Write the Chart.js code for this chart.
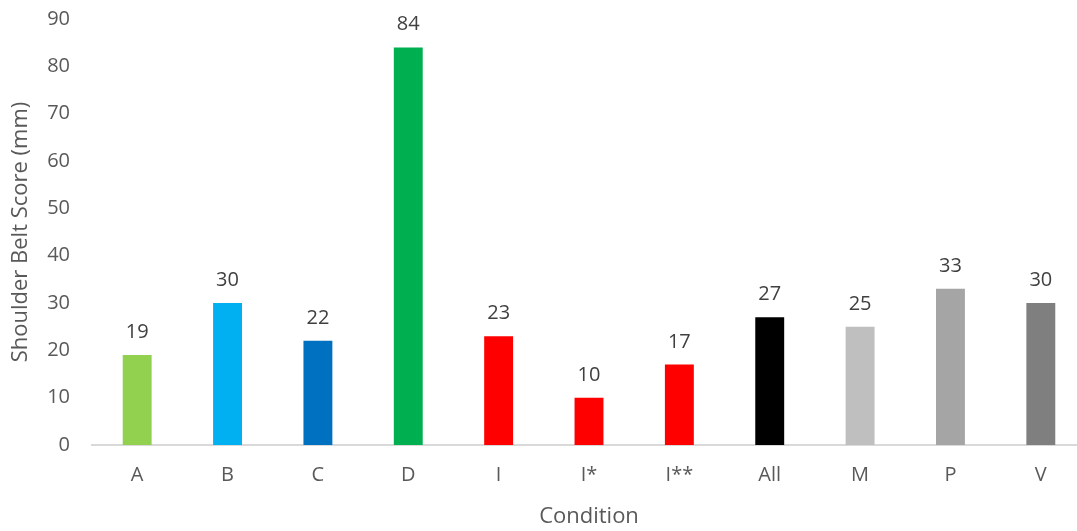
<!DOCTYPE html>
<html>
<head>
<meta charset="utf-8">
<script src="https://cdn.jsdelivr.net/npm/chart.js@4"></script>
<style>
  html, body { margin: 0; padding: 0; background: #fff; overflow: hidden; }
  #wrap { width: 1086px; height: 531px; position: relative; }
</style>
</head>
<body>
<div id="wrap"><canvas id="belt-chart"></canvas></div>
<script>
const conditions = ['A', 'B', 'C', 'D', 'I', 'I*', 'I**', 'All', 'M', 'P', 'V'];
const scores = [19, 30, 22, 84, 23, 10, 17, 27, 25, 33, 30];
const barColors = ['#92d050', '#00b0f0', '#0070c0', '#00b050', '#ff0000', '#ff0000', '#ff0000',
                   '#000000', '#bfbfbf', '#a5a5a5', '#7f7f7f'];
const yTicks = [0, 10, 20, 30, 40, 50, 60, 70, 80, 90];

const textColor = '#595959';
const fontFamily = '"Open Sans", "Noto Sans", sans-serif';

// value labels above each bar
const valueLabels = {
    id: 'valueLabels',
    afterDatasetsDraw(chart) {
        const ctx = chart.ctx;
        const meta = chart.getDatasetMeta(0);
        ctx.save();
        ctx.fillStyle = '#404040';
        ctx.font = '20px ' + fontFamily;
        ctx.textAlign = 'center';
        ctx.textBaseline = 'alphabetic';
        meta.data.forEach((bar, i) => {
            ctx.fillText(String(scores[i]), bar.x, bar.y - 17);
        });
        ctx.restore();
    }
};

new Chart(document.getElementById('belt-chart'), {
    type: 'bar',
    data: {
        labels: conditions,
        datasets: [{
            data: scores,
            backgroundColor: barColors,
            barPercentage: 0.32,
            categoryPercentage: 1
        }]
    },
    options: {
        responsive: true,
        maintainAspectRatio: false,
        animation: false,
        layout: { padding: { top: 19, left: 8, right: 0, bottom: 0 } },
        plugins: {
            legend: { display: false },
            tooltip: { enabled: false }
        },
        scales: {
            x: {
                afterFit(axis) { axis.height = 86; },
                grid: { display: false, drawTicks: false },
                border: { display: true, color: '#d9d9d9', width: 2 },
                ticks: { color: textColor, font: { family: fontFamily, size: 20 }, padding: 18 },
                title: {
                    display: true, text: 'Condition', color: textColor,
                    font: { family: fontFamily, size: 22 }, padding: { top: 4, bottom: 1 }
                }
            },
            y: {
                min: 0,
                max: 90,
                afterBuildTicks(axis) { axis.ticks = yTicks.map(v => ({ value: v })); },
                afterFit(axis) {
                    axis.width = 84;
                    axis.paddingTop = 0;
                    axis.paddingBottom = 0;
                },
                grid: { display: false, drawTicks: false },
                border: { display: false },
                ticks: { color: textColor, font: { family: fontFamily, size: 20 }, padding: 22 },
                title: {
                    display: true, text: 'Shoulder Belt Score (mm)', color: textColor,
                    font: { family: fontFamily, size: 22 }, padding: { top: 0, bottom: 0 }
                }
            }
        }
    },
    plugins: [valueLabels]
});
</script>
</body>
</html>
